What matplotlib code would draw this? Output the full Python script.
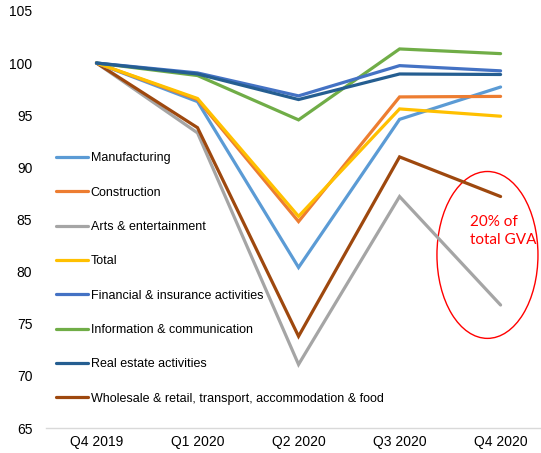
#========================================#
# GVA by sector, indexed to Q4 2019 = 100
#========================================#
import matplotlib
matplotlib.use("Agg")
import matplotlib.pyplot as plt
from matplotlib.patches import Ellipse

plt.rcParams['font.family'] = ['Liberation Sans', 'DejaVu Sans']

# Data
#========================================#
quarters = ["Q4 2019", "Q1 2020", "Q2 2020", "Q3 2020", "Q4 2020"]

manufacturing = [100, 96.3, 80.4, 94.6, 97.7]
construction = [100, 96.5, 84.8, 96.75, 96.8]
arts = [100, 93.3, 71.1, 87.2, 76.8]
total = [100, 96.6, 85.3, 95.6, 94.9]
financial = [100, 99.05, 96.85, 99.75, 99.25]
information = [100, 98.8, 94.55, 101.35, 100.9]
real_estate = [100, 98.95, 96.5, 98.95, 98.9]
wholesale = [100, 93.8, 73.8, 91.0, 87.2]

series_names = ["Manufacturing", "Construction", "Arts & entertainment", "Total",
                "Financial & insurance activities", "Information & communication",
                "Real estate activities",
                "Wholesale & retail, transport, accommodation & food"]
series_values = [manufacturing, construction, arts, total, financial,
                 information, real_estate, wholesale]
series_colors = ["#5B9BD5", "#ED7D31", "#A5A5A5", "#FFC000", "#4472C4",
                 "#70AD47", "#255E91", "#9E480E"]

# Figure
#========================================#
fig = plt.figure(figsize=(5.41, 4.53), dpi=100)
ax = fig.add_axes([0.085, 0.055, 0.915, 0.921])

x = range(len(quarters))
# draw in an order so the bigger lines sit on top like the original
draw_order = [2, 7, 0, 1, 3, 5, 4, 6]
lines = {}
for i in draw_order:
    ln, = ax.plot(x, series_values[i], color=series_colors[i], lw=2.3,
                  solid_capstyle='round', solid_joinstyle='miter',
                  label=series_names[i])
    lines[i] = ln

ax.set_xlim(-0.5, 4.4)
ax.set_ylim(65, 105)
ax.set_yticks(range(65, 106, 5))
ax.set_xticks(list(x))
ax.set_xticklabels(quarters)
ax.tick_params(axis='both', length=0, labelsize=10, colors='#000000')
ax.tick_params(axis='x', pad=5)
ax.tick_params(axis='y', pad=9.8)

for s in ['top', 'right', 'left']:
    ax.spines[s].set_visible(False)
ax.spines['bottom'].set_color('#D9D9D9')
ax.spines['bottom'].set_linewidth(1.0)

# Legend
#========================================#
handles = [lines[i] for i in range(len(series_names))]
ax.legend(handles, series_names, loc='upper left',
          bbox_to_anchor=(0.104, 0.664), bbox_transform=fig.transFigure,
          frameon=False, fontsize=9, handlelength=2.55, handletextpad=0.2,
          labelspacing=1.79, borderaxespad=0, borderpad=0)

# Annotation
#========================================#
ell = Ellipse((3.87, 81.6), 1.0, 16.0, fill=False, edgecolor='#FF0000', lw=1.0)
ax.add_patch(ell)
ax.text(3.7, 83.9, "20% of\ntotal GVA", color='#FF0000', fontsize=11,
        family=['Lato', 'DejaVu Sans'], ha='left', va='center', linespacing=1.35)

fig.savefig("out.png", dpi=100)
